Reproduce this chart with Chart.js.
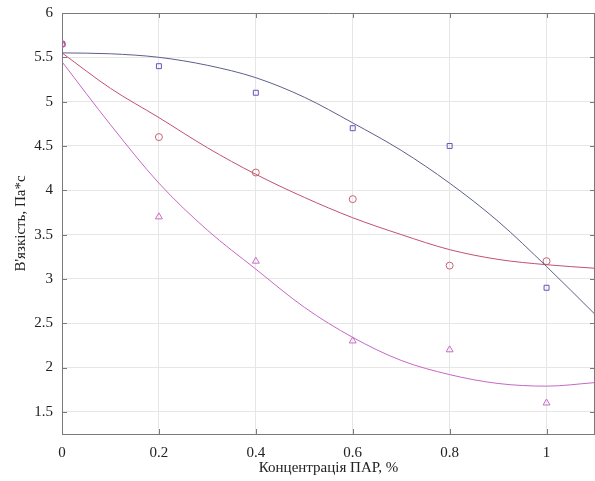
<!DOCTYPE html>
<html><head><meta charset="utf-8">
<script src="https://cdn.jsdelivr.net/npm/chart.js@4/dist/chart.umd.min.js"></script>
<style>html,body{margin:0;padding:0;background:#fff;overflow:hidden}canvas{display:block}</style>
</head><body>
<canvas id="c" width="595" height="481"></canvas>
<script>
const xPoints = [0, 0.2, 0.4, 0.6, 0.8, 1.0];
const squares = [5.65, 5.4, 5.1, 4.7, 4.5, 2.9];
const circles = [5.65, 4.6, 4.2, 3.9, 3.15, 3.2];
const triangles = [5.65, 3.7, 3.2, 2.3, 2.2, 1.6];

const xCurve = [0, 0.1, 0.2, 0.3, 0.4, 0.5, 0.6, 0.7, 0.8, 0.9, 1.0, 1.1];
const blueCurve = [5.55, 5.54, 5.5, 5.41, 5.27, 5.05, 4.76, 4.45, 4.08, 3.65, 3.14, 2.6];
const redCurve = [5.55, 5.15, 4.82, 4.48, 4.18, 3.92, 3.69, 3.5, 3.33, 3.22, 3.16, 3.12];
const magCurve = [5.45, 4.74, 4.08, 3.55, 3.11, 2.68, 2.34, 2.08, 1.92, 1.82, 1.79, 1.83];

const xTicks = [0, 0.2, 0.4, 0.6, 0.8, 1];
const yTicks = [1.5, 2, 2.5, 3, 3.5, 4, 4.5, 5, 5.5, 6];

const xLabel = 'Концентрація ПАР, %';
const yLabel = "В'язкість, Па*с";

const pts = (xs, ys) => xs.map((x, i) => ({x: x, y: ys[i]}));

const FONT = "'Liberation Serif', 'Times New Roman', serif";

const frame = {
  id: 'frame',
  afterDraw(chart) {
    const {ctx, chartArea: a, scales} = chart;
    ctx.save();
    ctx.strokeStyle = '#7a7a7a';
    ctx.lineWidth = 1;
    ctx.beginPath();
    ctx.moveTo(a.left, a.top + 0.5); ctx.lineTo(a.right, a.top + 0.5);
    ctx.moveTo(a.right - 0.5, a.top); ctx.lineTo(a.right - 0.5, a.bottom);
    xTicks.forEach(v => {
      const px = Math.round(scales.x.getPixelForValue(v)) + 0.5;
      ctx.moveTo(px, a.bottom); ctx.lineTo(px, a.bottom - 5);
      ctx.moveTo(px, a.top); ctx.lineTo(px, a.top + 5);
    });
    yTicks.forEach(v => {
      const py = Math.round(scales.y.getPixelForValue(v)) + 0.5;
      ctx.moveTo(a.left, py); ctx.lineTo(a.left + 5, py);
      ctx.moveTo(a.right, py); ctx.lineTo(a.right - 5, py);
    });
    ctx.stroke();
    ctx.restore();
  }
};

new Chart(document.getElementById('c'), {
  type: 'scatter',
  data: {
    datasets: [
      {data: pts(xCurve, blueCurve), showLine: true, borderColor: '#5c5f8a', borderWidth: 1, pointRadius: 0, tension: 0.4, cubicInterpolationMode: 'monotone'},
      {data: pts(xCurve, redCurve), showLine: true, borderColor: '#c2506e', borderWidth: 1, pointRadius: 0, tension: 0.4, cubicInterpolationMode: 'monotone'},
      {data: pts(xCurve, magCurve), showLine: true, borderColor: '#c468c4', borderWidth: 1, pointRadius: 0, tension: 0.4, cubicInterpolationMode: 'monotone'},
      {data: pts(xPoints, triangles), pointStyle: 'triangle', pointRadius: 4, borderColor: '#c86cc8', backgroundColor: 'rgba(0,0,0,0)', borderWidth: 1},
      {data: pts(xPoints, circles), pointStyle: 'circle', pointRadius: 3.5, borderColor: '#c46474', backgroundColor: 'rgba(0,0,0,0)', borderWidth: 1},
      {data: pts(xPoints, squares), pointStyle: 'rect', pointRadius: 3.5, borderColor: '#6a50b8', backgroundColor: 'rgba(0,0,0,0)', borderWidth: 1}
    ]
  },
  options: {
    responsive: false,
    animation: false,
    devicePixelRatio: 1,
    layout: {autoPadding: false, padding: {top: 13, right: 0, left: 0, bottom: 0}},
    plugins: {legend: {display: false}, tooltip: {enabled: false}, title: {display: false}},
    scales: {
      x: {
        type: 'linear', min: 0, max: 1.1,
        afterBuildTicks: s => { s.ticks = xTicks.map(v => ({value: v})); },
        afterFit: s => { s.height = 47; s.paddingLeft = 0; s.paddingRight = 0; },
        grid: {color: '#e6e6e6', drawTicks: false},
        border: {color: '#7a7a7a'},
        ticks: {padding: 10, color: '#222', font: {family: FONT, size: 15}, callback: v => String(v), maxRotation: 0},
        title: {display: true, text: xLabel, color: '#222', font: {family: FONT, size: 15}, padding: {top: 0, bottom: 4}}
      },
      y: {
        type: 'linear', min: 1.25, max: 6,
        afterBuildTicks: s => { s.ticks = yTicks.map(v => ({value: v})); },
        afterFit: s => { s.width = 62; s.paddingTop = 0; s.paddingBottom = 0; },
        grid: {color: '#e6e6e6', drawTicks: false},
        border: {color: '#7a7a7a'},
        ticks: {padding: 9, color: '#222', font: {family: FONT, size: 15}, callback: v => String(v)},
        title: {display: true, text: yLabel, color: '#222', font: {family: FONT, size: 15}, padding: {top: 12, bottom: 0}}
      }
    }
  },
  plugins: [frame]
});
</script>
</body></html>
